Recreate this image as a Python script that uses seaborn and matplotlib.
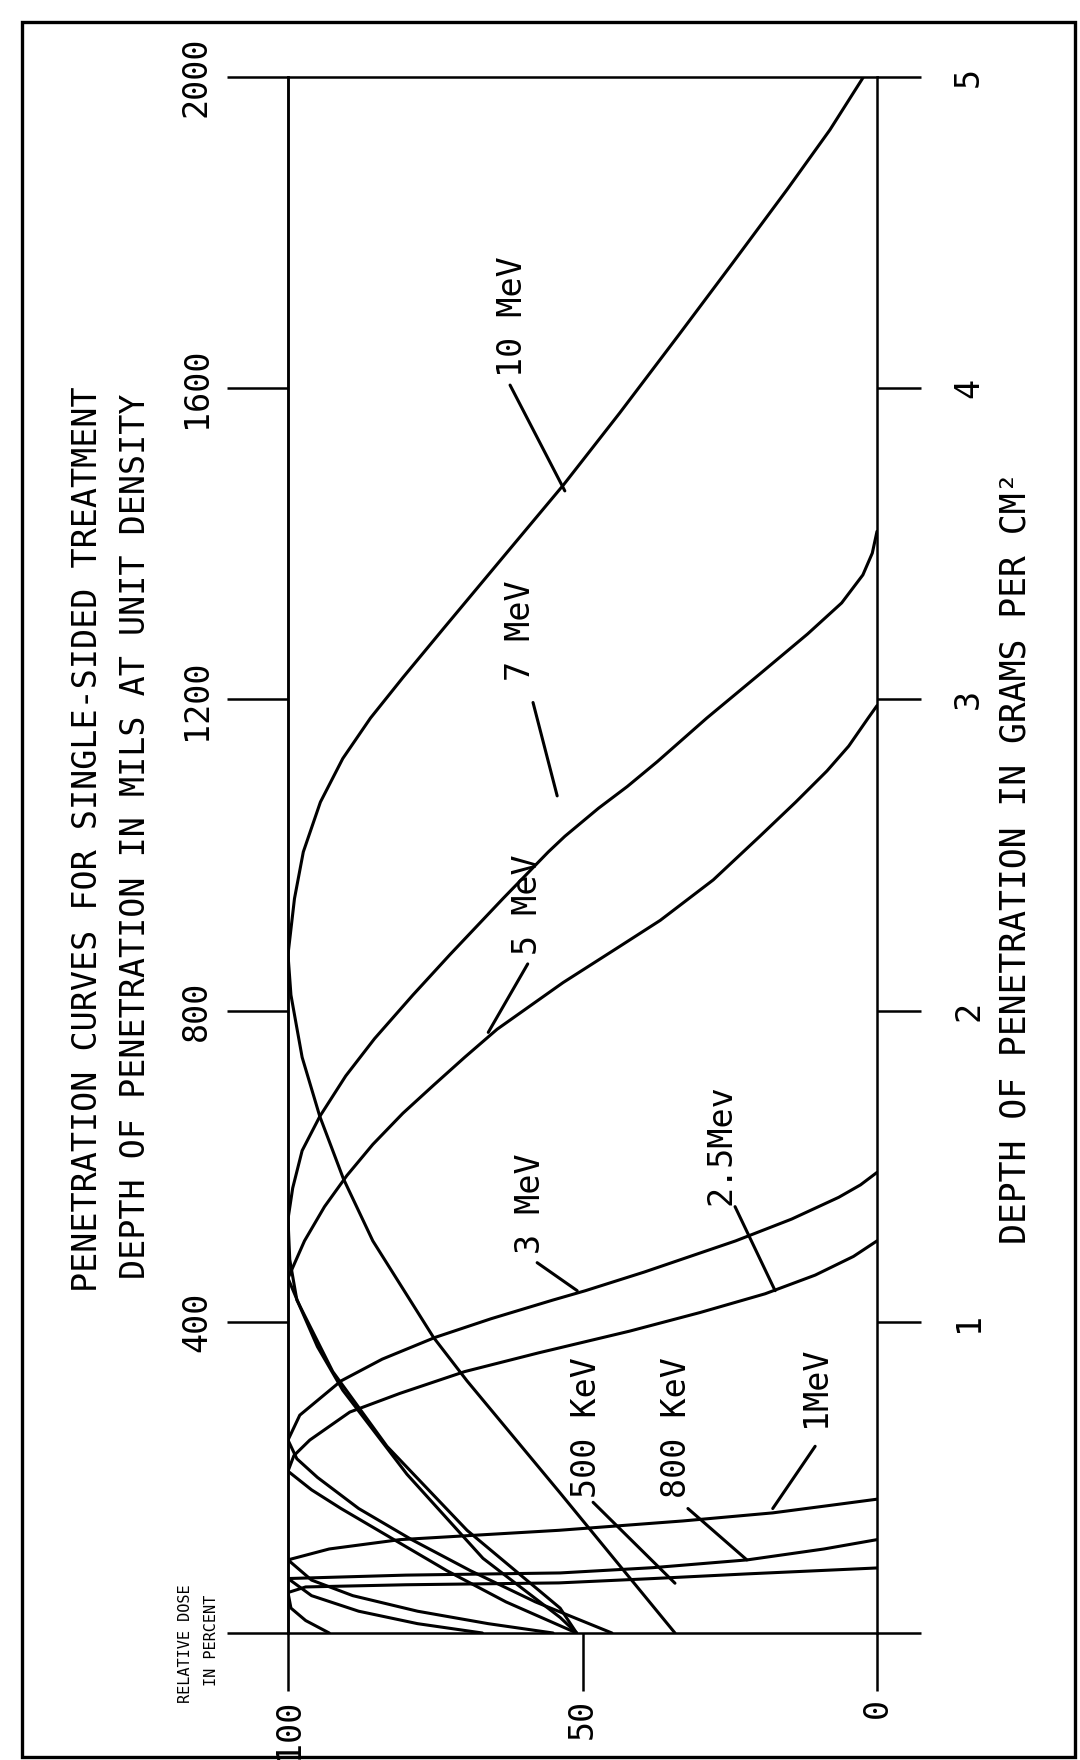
import matplotlib
matplotlib.use("Agg")
import matplotlib.pyplot as plt
import matplotlib.patches as mpatches
import pandas as pd
import seaborn as sns

# Depth (g/cm^2) and relative dose (%) for each beam energy
depth_10mev = [0.00, 0.45, 0.81, 0.95, 1.26, 1.46, 1.66, 1.85, 2.05, 2.18, 2.36, 2.51, 2.67, 2.81, 2.94, 3.07,
               3.23, 3.45, 3.69, 3.92, 4.17, 4.40, 4.64, 4.83, 5.00]
dose_10mev = [34.3, 53.8, 69.6, 75.3, 85.6, 90.6, 94.6, 97.6, 99.5, 100, 98.9, 97.4, 94.5, 90.7, 86.0, 80.5,
              73.5, 63.8, 53.2, 43.7, 33.7, 24.6, 15.2, 8.0, 2.3]

depth_7mev = [0.00, 0.08, 0.33, 0.60, 0.84, 1.07, 1.20, 1.33, 1.43, 1.55, 1.66, 1.79, 1.91, 2.05, 2.18, 2.36,
              2.51, 2.56, 2.65, 2.72, 2.80, 2.94, 3.08, 3.21, 3.31, 3.40, 3.47, 3.54]
dose_7mev = [51, 53.8, 69.6, 83.2, 92.4, 98.5, 99.7, 100, 99.2, 97.6, 94.6, 90.2, 85.3, 78.8, 72.5, 63.5,
             55.8, 53.0, 47.3, 42.4, 37.3, 28.9, 20.0, 11.8, 6.0, 2.4, 0.8, 0]

depth_5mev = [0.00, 0.05, 0.24, 0.51, 0.78, 0.92, 1.05, 1.14, 1.26, 1.37, 1.47, 1.57, 1.67, 1.76, 1.85, 1.94,
              2.09, 2.20, 2.29, 2.42, 2.56, 2.67, 2.77, 2.85, 2.94, 2.98]
dose_5mev = [51, 53.8, 66.9, 79.8, 90.7, 95.0, 98.0, 100, 97.2, 93.8, 90.0, 85.6, 80.5, 75.3, 70.0, 64.5,
             53.3, 44.2, 36.8, 27.8, 19.9, 13.8, 8.5, 4.8, 1.5, 0]

depth_3mev = [0.00, 0.10, 0.20, 0.30, 0.40, 0.50, 0.56, 0.62, 0.70, 0.81, 0.88, 0.95, 1.01, 1.07, 1.10, 1.16,
              1.26, 1.33, 1.40, 1.44, 1.48]
dose_3mev = [45, 58, 69, 79, 88, 95, 98.5, 100, 98, 91, 84, 75, 65.5, 55, 49.5, 39.5, 24, 14.5, 6.5, 2.8, 0]

depth_2_5mev = [0.00, 0.10, 0.20, 0.30, 0.40, 0.46, 0.52, 0.57, 0.62, 0.71, 0.77, 0.84, 0.90, 0.97, 1.03,
                1.09, 1.15, 1.21, 1.26]
dose_2_5mev = [51, 63, 73, 82, 91, 96, 100, 99, 96.3, 89.5, 81, 70, 57.5, 42, 30, 19, 10.5, 4, 0]

depth_1mev = [0.00, 0.03, 0.07, 0.12, 0.17, 0.235, 0.27, 0.30, 0.33, 0.36, 0.386, 0.41, 0.43]
dose_1mev = [55, 66, 78, 89, 96, 100, 93, 81, 54, 33, 17.7, 8, 0]

depth_800kev = [0.00, 0.03, 0.07, 0.12, 0.175, 0.186, 0.193, 0.21, 0.235, 0.27, 0.30]
dose_800kev = [67, 78, 88, 96, 100, 80, 53.8, 38, 22, 9, 0]

depth_500kev = [0.00, 0.04, 0.08, 0.13, 0.148, 0.155, 0.161, 0.175, 0.19, 0.209]
dose_500kev = [93, 97, 99.5, 100, 97, 80, 54, 38, 22, 0]

energies = ["10 MeV", "7 MeV", "5 MeV", "3 MeV", "2.5 MeV", "1 MeV", "800 keV", "500 keV"]
depths = [depth_10mev, depth_7mev, depth_5mev, depth_3mev, depth_2_5mev, depth_1mev, depth_800kev, depth_500kev]
doses = [dose_10mev, dose_7mev, dose_5mev, dose_3mev, dose_2_5mev, dose_1mev, dose_800kev, dose_500kev]

mil_ticks = [0, 400, 800, 1200, 1600, 2000]
mil_labels = ["", "400", "800", "1200", "1600", "2000"]
gram_ticks = [0, 1, 2, 3, 4, 5]
gram_labels = ["", "1", "2", "3", "4", "5"]
dose_ticks = [100, 50, 0]
dose_labels = ["100", "50", "0"]

# Curve captions: text, text position (dose, depth), leader start, leader end
captions = [
    ("10 MeV", (61.8, 4.23), (62.3, 4.01), (53.0, 3.67)),
    ("7 MeV", (60.6, 3.22), (58.4, 2.99), (54.3, 2.69)),
    ("5 MeV", (59.3, 2.34), (59.3, 2.15), (66.0, 1.93)),
    ("3 MeV", (58.9, 1.38), (57.7, 1.19), (50.9, 1.10)),
    ("2.5Mev", (26.5, 1.57), (24.1, 1.37), (17.3, 1.10)),
    ("500 KeV", (49.4, 0.66), (48.2, 0.42), (34.3, 0.16)),
    ("800 KeV", (34.0, 0.66), (32.1, 0.40), (22.1, 0.235)),
    ("1MeV", (10.5, 0.79), (10.5, 0.60), (17.7, 0.40)),
]

frames = []
for name, d, v in zip(energies, depths, doses):
    frames.append(pd.DataFrame({"energy": name, "depth": d, "dose": v}))
df = pd.concat(frames, ignore_index=True)

sns.set_theme(style="white")
plt.rcParams["font.family"] = ["DejaVu Sans Mono", "DejaVu Sans"]
plt.rcParams["axes.edgecolor"] = "black"
plt.rcParams["xtick.color"] = "black"
plt.rcParams["ytick.color"] = "black"
plt.rcParams["text.color"] = "black"

LW = 2.2
fig = plt.figure(figsize=(10.8, 17.6), dpi=100)
fig.patch.set_facecolor("white")
ax = fig.add_axes([288 / 1080, 127 / 1760, 589 / 1080, 1556 / 1760])

sns.lineplot(data=df, x="dose", y="depth", units="energy", estimator=None, sort=False,
             color="black", linewidth=LW, ax=ax, legend=False)

ax.set_xlim(100, 0)
ax.set_ylim(0, 5)
ax.set_xlabel("")
ax.set_ylabel("")
for s in ax.spines.values():
    s.set_linewidth(1.8)
    s.set_color("black")

# grams per cm^2 on the right
ax.yaxis.tick_right()
ax.set_yticks(gram_ticks, gram_labels)
ax.tick_params(axis="y", right=True, left=False, length=32, width=1.8, pad=22,
               labelsize=24, labelrotation=90, direction="out")
for lbl in ax.get_yticklabels():
    lbl.set_va("center")

# relative dose along the bottom
ax.set_xticks(dose_ticks, dose_labels)
ax.tick_params(axis="x", bottom=True, length=42, width=1.8, pad=5,
               labelsize=24, labelrotation=90, direction="out")

# mils on the left
sec = ax.secondary_yaxis("left", functions=(lambda g: g * 400, lambda m: m / 400))
sec.set_yticks(mil_ticks, mil_labels)
sec.tick_params(length=44, width=1.8, pad=10, labelsize=24, labelrotation=90, direction="out")
sec.spines["left"].set_linewidth(1.8)
for lbl in sec.get_yticklabels():
    lbl.set_va("center")

for text, pos, a, b in captions:
    ax.text(pos[0], pos[1], text, rotation=90, ha="center", va="center", fontsize=24)
    ax.plot([a[0], b[0]], [a[1], b[1]], color="black", lw=LW)

fig.text(88 / 1080, 1 - 839 / 1760, "PENETRATION CURVES FOR SINGLE-SIDED TREATMENT",
         rotation=90, ha="center", va="center", fontsize=24)
fig.text(136 / 1080, 1 - 836 / 1760, "DEPTH OF PENETRATION IN MILS AT UNIT DENSITY",
         rotation=90, ha="center", va="center", fontsize=24)
fig.text(1016 / 1080, 1 - 858 / 1760, "DEPTH OF PENETRATION IN GRAMS PER CM²",
         rotation=90, ha="center", va="center", fontsize=25)
fig.text(186 / 1080, 1 - 1644 / 1760, "RELATIVE DOSE", rotation=90, ha="center", va="center", fontsize=11)
fig.text(212 / 1080, 1 - 1640 / 1760, "IN PERCENT", rotation=90, ha="center", va="center", fontsize=11)

fig.patches.append(mpatches.Rectangle((22 / 1080, 3 / 1760), 1053 / 1080, 1735 / 1760,
                                      transform=fig.transFigure, fill=False, lw=2.4, ec="black"))

fig.savefig("out.png", dpi=100, facecolor="white")
